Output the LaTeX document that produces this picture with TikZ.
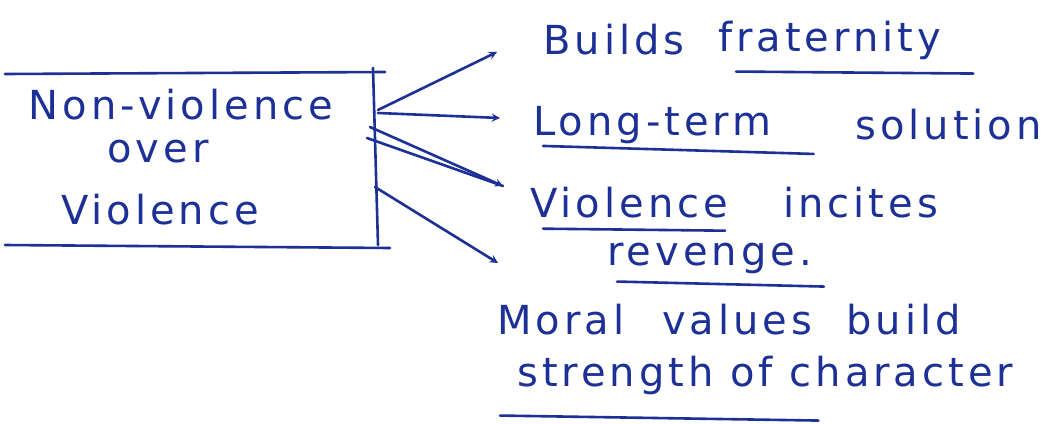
\documentclass[tikz,border=0pt]{standalone}
\usepackage{fontspec}
\usepackage{xcolor}
\newfontfamily\handfont[LetterSpace=10]{DejaVu Sans}
\usetikzlibrary{positioning, arrows}
\definecolor{ink}{RGB}{28,48,150}
\tikzstyle{hand} = [text=ink, font=\handfont\fontsize{40}{54}\selectfont, inner sep=0pt, anchor=west]
\tikzstyle{pen} = [draw=ink, line width=2.6pt, line cap=round]
\tikzstyle{arrow} = [pen, ->, >=stealth]

\begin{document}
\begin{tikzpicture}[x=1pt, y=-1pt]
    \useasboundingbox (0,0) rectangle (1059,423);
    % the box, open on the left
    \node (topic1) [hand, anchor=center] at (181,105) {Non-violence};
    \node (topic2) [hand, anchor=center] at (158,152) {over};
    \node (topic3) [hand, anchor=center] at (160,210) {Violence};
    \coordinate (tl) at (5,74);
    \coordinate (tr) at (385,72);
    \coordinate (bl) at (5,245);
    \coordinate (br) at (390,248);
    \coordinate (vt) at (373,68);
    \coordinate (vb) at (378,245);
    \draw[pen] (tl)--(tr);
    \draw[pen] (bl)--(br);
    \draw[pen] (vt)--(vb);
    % the points
    \node (builds) [hand] at (543,40) {Builds};
    \node (frat) [hand] at (718,40) {fraternity};
    \node (longterm) [hand] at (533,125) {Long-term};
    \node (sol) [hand] at (855,125) {solution};
    \node (viol) [hand] at (530,203) {Violence};
    \node (incites) [hand] at (783,203) {incites};
    \node (reveng) [hand] at (607,258) {revenge.};
    \node (moral) [hand] at (497,320) {Moral\hspace{38pt}values\hspace{34pt}build};
    \node (strength) [hand] at (517,375) {strength of character};
    % arrows out of the box
    \coordinate (s1) at (378,110);
    \coordinate (s2) at (378,113);
    \coordinate (s3) at (370,127);
    \coordinate (s3b) at (367,138);
    \coordinate (s4) at (375,187);
    \coordinate (t1) at (497,52);
    \coordinate (t2) at (500,118);
    \coordinate (t3) at (503,186);
    \coordinate (t4) at (498,263);
    \draw[arrow] (s1)--(t1);
    \draw[arrow] (s2)--(t2);
    \draw[pen] (s3b)--(t3);
    \draw[arrow] (s3)--(t3);
    \draw[arrow] (s4)--(t4);
    % underlines
    \draw[pen] ([xshift=18pt,yshift=-12pt]frat.south west)--([xshift=32pt,yshift=-14pt]frat.south east);
    \draw[pen] ([xshift=10pt,yshift=-2pt]longterm.south west)--([xshift=42pt,yshift=-10pt]longterm.south east);
    \draw[pen] ([xshift=13pt,yshift=-10pt]viol.south west)--([xshift=-3pt,yshift=-12pt]viol.south east);
    \draw[pen] ([xshift=10pt,yshift=-8pt]reveng.south west)--([xshift=12pt,yshift=-13pt]reveng.south east);
    \draw[pen] ([xshift=-17pt,yshift=-21pt]strength.south west)--([xshift=-195pt,yshift=-26pt]strength.south east);
\end{tikzpicture}
\end{document}
